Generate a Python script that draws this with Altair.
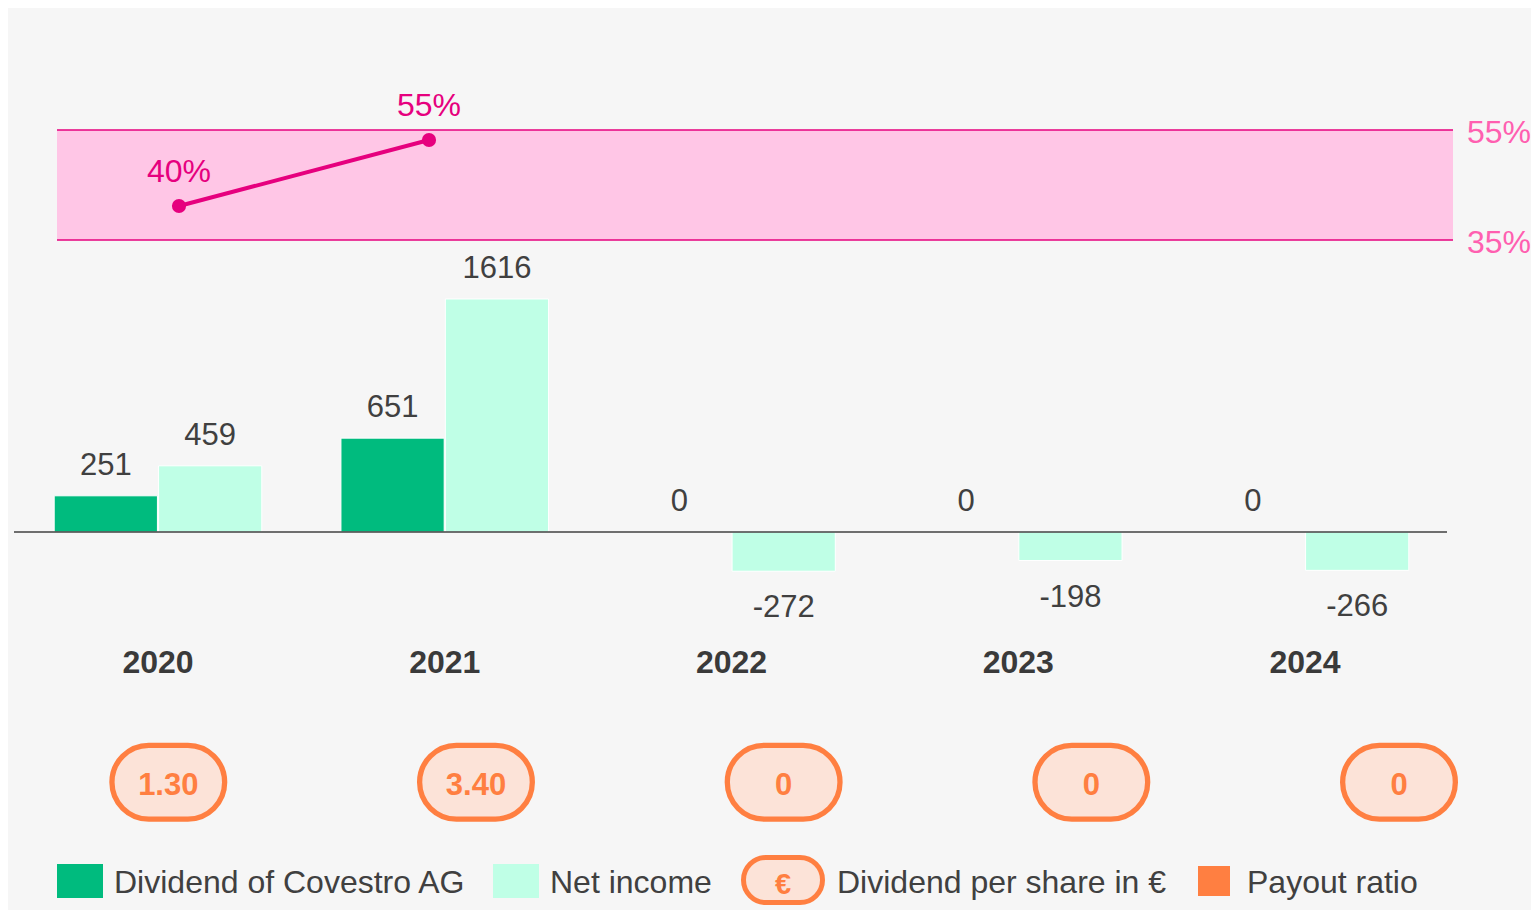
import altair as alt
import pandas as pd

# ---------------- data ----------------
years = [2020, 2021, 2022, 2023, 2024]
dividend = [251, 651, 0, 0, 0]
net_income = [459, 1616, -272, -198, -266]
dps = ["1.30", "3.40", "0", "0", "0"]
payout_years = [2020, 2021]
payout = [40, 55]
payout_labels = ["40%", "55%"]
target_range = [35, 55]
target_labels = ["35%", "55%"]
legend_labels = ["Dividend of Covestro AG", "Net income", "Dividend per share in €", "Payout ratio"]
legend_pill_text = "€"

# ---------------- style ----------------
GREEN = "#00bb7e"
MINT = "#bfffe6"
ORANGE = "#ff7f41"
PILL_FILL = "#fce3d8"
MAGENTA = "#e6007e"
BAND = "#ffc6e6"
PINK = "#ff5fb0"
TEXT = "#404040"
YEARTXT = "#3a3a3a"
BG = "#f6f6f6"
FONT = "Arial, Liberation Sans, Helvetica, sans-serif"

W, H = 1523, 902

bars_df = pd.DataFrame({"year": years, "dividend": dividend, "net": net_income})
pill_df = pd.DataFrame({"year": years, "dps": dps})
line_df = pd.DataFrame({"year": payout_years, "payout": payout, "label": payout_labels})
band_df = pd.DataFrame({"lo": [target_range[0]], "hi": [target_range[1]]})
edge_df = pd.DataFrame({"v": target_range, "label": target_labels})
zero_df = pd.DataFrame({"z": [0]})

# ---------------- scales ----------------
x_bar = alt.Scale(domain=[2020, 2024], range=[150, 1297], nice=False, zero=False)
ZERO, K = 524, 0.1442
LO, HI = -400, 1800
y_bar = alt.Scale(domain=[LO, HI], range=[ZERO - K * LO, ZERO - K * HI], nice=False, zero=False)
x_pill = alt.Scale(domain=[2020, 2024], range=[160.3, 1391], nice=False, zero=False)
x_line = alt.Scale(domain=[2020, 2021], range=[171, 421], nice=False, zero=False)
y_line = alt.Scale(domain=[40, 55], range=[198, 132], nice=False, zero=False)
y_band = alt.Scale(domain=[35, 55], range=[232, 122], nice=False, zero=False)


def stadium(w, h):
    r = h / 2.0
    s = w / 2.0 - r
    return (f"M {-s} {-r} L {s} {-r} A {r} {r} 0 0 1 {s} {r} "
            f"L {-s} {r} A {r} {r} 0 0 1 {-s} {-r} Z")


PILL = stadium(112.7, 73.7)
LEG_PILL = stadium(79, 45)

# ---------------- payout band ----------------
band = alt.Chart(band_df).mark_rect(color=BAND).encode(
    x=alt.value(49), x2=alt.value(1445),
    y=alt.Y("lo:Q", scale=y_band, axis=None), y2="hi:Q")
edges = alt.Chart(edge_df).mark_rule(color=MAGENTA, strokeWidth=1.5).encode(
    x=alt.value(49), x2=alt.value(1445),
    y=alt.Y("v:Q", scale=y_band, axis=None))
edge_labels = alt.Chart(edge_df).mark_text(
    align="left", baseline="alphabetic", dy=13, fontSize=32, color=PINK).encode(
    x=alt.value(1459), y=alt.Y("v:Q", scale=y_band, axis=None), text="label:N")

# ---------------- payout line ----------------
pline = alt.Chart(line_df).mark_line(color=MAGENTA, strokeWidth=4).encode(
    x=alt.X("year:Q", scale=x_line, axis=None),
    y=alt.Y("payout:Q", scale=y_line, axis=None))
ppts = alt.Chart(line_df).mark_circle(color=MAGENTA, size=201, opacity=1).encode(
    x=alt.X("year:Q", scale=x_line, axis=None),
    y=alt.Y("payout:Q", scale=y_line, axis=None))
plabels = alt.Chart(line_df).mark_text(
    baseline="alphabetic", dy=-24, fontSize=32, color=MAGENTA).encode(
    x=alt.X("year:Q", scale=x_line, axis=None),
    y=alt.Y("payout:Q", scale=y_line, axis=None), text="label:N")

# ---------------- bars ----------------
div_bars = alt.Chart(bars_df).transform_filter("datum.dividend != 0").transform_calculate(
    x0="datum.year - 0.362", x1="datum.year - 0.002", base="0").mark_bar(
    color=GREEN, stroke="white", strokeWidth=1).encode(
    x=alt.X("x0:Q", scale=x_bar, axis=None), x2="x1:Q",
    y=alt.Y("dividend:Q", scale=y_bar, axis=None), y2="base:Q")
net_bars = alt.Chart(bars_df).transform_calculate(
    x0="datum.year + 0.002", x1="datum.year + 0.362", base="0").mark_bar(
    color=MINT, stroke="white", strokeWidth=1).encode(
    x=alt.X("x0:Q", scale=x_bar, axis=None), x2="x1:Q",
    y=alt.Y("net:Q", scale=y_bar, axis=None), y2="base:Q")
zero_rule = alt.Chart(zero_df).mark_rule(color=TEXT, strokeWidth=1.5).encode(
    x=alt.value(6), x2=alt.value(1439),
    y=alt.Y("z:Q", scale=y_bar, axis=None))

VAL_FS = 31
div_labels = alt.Chart(bars_df).transform_calculate(xc="datum.year - 0.182").mark_text(
    baseline="alphabetic", dy=-21, fontSize=VAL_FS, color=TEXT).encode(
    x=alt.X("xc:Q", scale=x_bar, axis=None),
    y=alt.Y("dividend:Q", scale=y_bar, axis=None), text="dividend:N")
net_pos_labels = alt.Chart(bars_df).transform_filter("datum.net >= 0").transform_calculate(
    xc="datum.year + 0.182").mark_text(
    baseline="alphabetic", dy=-21, fontSize=VAL_FS, color=TEXT).encode(
    x=alt.X("xc:Q", scale=x_bar, axis=None),
    y=alt.Y("net:Q", scale=y_bar, axis=None), text="net:N")
net_neg_labels = alt.Chart(bars_df).transform_filter("datum.net < 0").transform_calculate(
    xc="datum.year + 0.182").mark_text(
    baseline="alphabetic", dy=46, fontSize=VAL_FS, color=TEXT).encode(
    x=alt.X("xc:Q", scale=x_bar, axis=None),
    y=alt.Y("net:Q", scale=y_bar, axis=None), text="net:N")

year_labels = alt.Chart(bars_df).mark_text(
    baseline="alphabetic", fontSize=32, fontWeight="bold", color=YEARTXT).encode(
    x=alt.X("year:Q", scale=x_bar, axis=None), y=alt.value(665.3), text="year:N")

# ---------------- dividend per share pills ----------------
pills = alt.Chart(pill_df).mark_point(
    shape=PILL, size=4, filled=True, fill=PILL_FILL, stroke=ORANGE,
    strokeWidth=5.3, opacity=1, fillOpacity=1, strokeOpacity=1).encode(
    x=alt.X("year:Q", scale=x_pill, axis=None), y=alt.value(774.2))
pill_text = alt.Chart(pill_df).mark_text(
    baseline="alphabetic", fontSize=31, fontWeight="bold", color=ORANGE).encode(
    x=alt.X("year:Q", scale=x_pill, axis=None), y=alt.value(787), text="dps:N")

# ---------------- legend ----------------
leg_df = pd.DataFrame({"label": legend_labels})
LEG_BASE = 885.3


def leg_text(i, xpos):
    return alt.Chart(leg_df).transform_filter(
        alt.FieldEqualPredicate(field="label", equal=legend_labels[i])).mark_text(
        align="left", baseline="alphabetic", fontSize=32, color=TEXT).encode(
        x=alt.value(xpos), y=alt.value(LEG_BASE), text="label:N")


def leg_box(color, x0, x1, y0, y1):
    return alt.Chart(zero_df).mark_rect(color=color).encode(
        x=alt.value(x0), x2=alt.value(x1), y=alt.value(y0), y2=alt.value(y1))


leg_pill_df = pd.DataFrame({"t": [legend_pill_text]})
leg_pill = alt.Chart(leg_pill_df).mark_point(
    shape=LEG_PILL, size=4, filled=True, fill=PILL_FILL, stroke=ORANGE,
    strokeWidth=5, opacity=1, fillOpacity=1, strokeOpacity=1).encode(
    x=alt.value(775), y=alt.value(872))
leg_pill_text = alt.Chart(leg_pill_df).mark_text(
    baseline="alphabetic", fontSize=29, fontWeight="bold", color=ORANGE).encode(
    x=alt.value(775), y=alt.value(886), text="t:N")

legend = [
    leg_box(GREEN, 49, 95, 856, 890), leg_text(0, 106),
    leg_box(MINT, 485, 531, 856, 890), leg_text(1, 542),
    leg_pill, leg_pill_text, leg_text(2, 829),
    leg_box(ORANGE, 1190, 1222, 858, 888), leg_text(3, 1239),
]

chart = alt.layer(
    band, edges, edge_labels, pline, ppts, plabels,
    div_bars, net_bars, zero_rule, div_labels, net_pos_labels, net_neg_labels,
    year_labels, pills, pill_text, *legend,
).resolve_scale(x="independent", y="independent").properties(
    width=W, height=H, background=BG, padding=0,
    autosize=alt.AutoSizeParams(type="none"),
).configure_view(stroke=None).configure_text(font=FONT)

chart.save("out.html", embed_options={"renderer": "svg", "actions": False})
